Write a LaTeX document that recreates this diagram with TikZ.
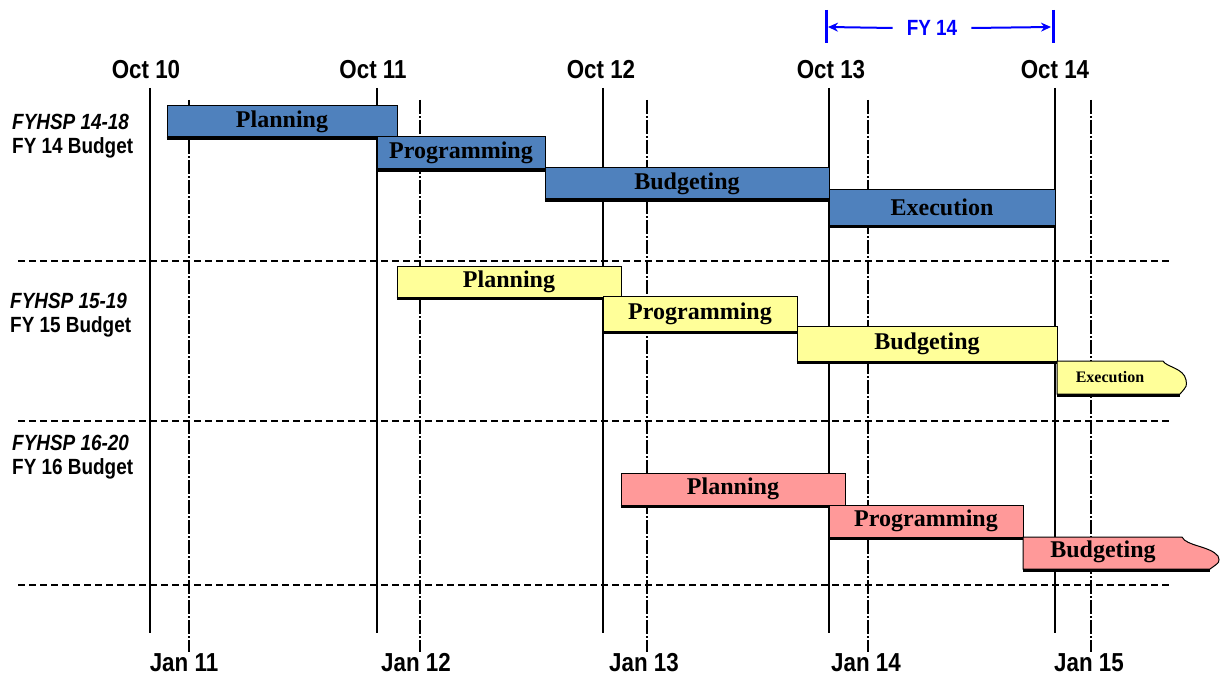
\documentclass[tikz,border=0pt]{standalone}
\usepackage{fontspec}
\setmainfont{Liberation Serif}
\newfontfamily\labfont[FakeStretch=0.86]{Liberation Sans}
\usetikzlibrary{arrows.meta}

\definecolor{barblue}{HTML}{4F81BD}
\definecolor{baryellow}{HTML}{FFFF99}
\definecolor{barred}{HTML}{FF9999}
\definecolor{fyblue}{HTML}{0000FF}

\tikzset{
  octline/.style={line width=2pt},
  janline/.style={line width=1.6pt, dash pattern=on 14pt off 2pt on 2pt off 2pt},
  sepline/.style={line width=1.6pt, dash pattern=on 7pt off 4pt},
  datelabel/.style={font=\labfont\fontsize{26}{26}\selectfont\bfseries, inner sep=0pt},
  rowlabel/.style={font=\labfont\fontsize{22}{24}\selectfont\bfseries, align=left, anchor=west, inner sep=0pt},
  ganttbox/.style={draw=black, line width=1pt, inner sep=0pt, rectangle,
    font=\fontsize{24}{24}\selectfont\bfseries},
  shadowline/.style={line width=3pt},
}

% \ganttbar{name}{x1}{y1}{x2}{y2}{fill}{text}
\newcommand{\ganttbar}[7]{%
  \node[ganttbox, fill=#6, minimum width={(#4-#2)*1pt}, minimum height={(#5-#3)*1pt}]
    (#1) at ({(#2+#4)/2},{(#3+#5)/2}) {#7};
  \draw[shadowline] ([yshift=-1pt]#1.south west) -- ([yshift=-1pt]#1.south east);
}

\begin{document}
\begin{tikzpicture}[x=1pt, y=-1pt]
\useasboundingbox (0,0) rectangle (1220,679);

% separators between the three budget cycles
\foreach \yy/\nm in {261/a, 421/b, 585/c} {
  \coordinate (sepL\nm) at (18,\yy);
  \coordinate (sepR\nm) at (1172,\yy);
  \draw[sepline] (sepL\nm) -- (sepR\nm);
}

% October gridlines with labels
\foreach \xx/\lx/\txt/\nm in {150/146/Oct 10/o10, 377/373/Oct 11/o11, 603/601/Oct 12/o12, 829/831/Oct 13/o13, 1055/1055/Oct 14/o14} {
  \node[datelabel] (\nm) at (\lx,70) {\txt};
  \coordinate (\nm top) at (\xx,88);
  \coordinate (\nm bot) at (\xx,633);
  \draw[octline] (\nm top) -- (\nm bot);
}

% January gridlines with labels
\foreach \xx/\lx/\txt/\nm in {189/184/Jan 11/j11, 420/416/Jan 12/j12, 647/644/Jan 13/j13, 868/866/Jan 14/j14, 1091/1089/Jan 15/j15} {
  \node[datelabel] (\nm) at (\lx,663) {\txt};
  \coordinate (\nm top) at (\xx,100);
  \coordinate (\nm bot) at (\xx,652);
  \draw[janline] (\nm top) -- (\nm bot);
}

% row labels
\node[rowlabel] (r14) at (12,136) {\itshape FYHSP 14-18\\FY 14 Budget};
\node[rowlabel] (r15) at (10,315) {\itshape FYHSP 15-19\\FY 15 Budget};
\node[rowlabel] (r16) at (12,457) {\itshape FYHSP 16-20\\FY 16 Budget};

% FY 14 span marker
\coordinate (fyLt) at (826,10);
\coordinate (fyLb) at (826,43);
\coordinate (fyRt) at (1053,10);
\coordinate (fyRb) at (1053,43);
\coordinate (fyLa) at (828,27);
\coordinate (fyRa) at (1051,27);
\draw[fyblue, line width=3pt] (fyLt) -- (fyLb);
\draw[fyblue, line width=3pt] (fyRt) -- (fyRb);
\node[font=\labfont\fontsize{22}{22}\selectfont\bfseries, text=fyblue, inner sep=0pt] (fy) at (932,28) {FY 14};
\draw[fyblue, line width=2pt, -{Stealth[length=10pt, width=9pt]}] ([xshift=-14pt]fy.west) -- (fyLa);
\draw[fyblue, line width=2pt, -{Stealth[length=10pt, width=9pt]}] ([xshift=14pt]fy.east) -- (fyRa);

% FY 14 budget cycle
\ganttbar{bPlan}{167}{106}{397}{137}{barblue}{Planning}
\ganttbar{bProg}{377}{137}{545}{169}{barblue}{Programming}
\ganttbar{bBudg}{545}{168}{829}{199}{barblue}{Budgeting}
\ganttbar{bExec}{829}{190}{1055}{225}{barblue}{Execution}

% FY 15 budget cycle
\ganttbar{yPlan}{397}{266}{621}{297}{baryellow}{Planning}
\ganttbar{yProg}{603}{296}{797}{331}{baryellow}{Programming}
\ganttbar{yBudg}{797}{326}{1057}{361}{baryellow}{Budgeting}
\filldraw[fill=baryellow, draw=black, line width=1pt]
  (1057,361) -- (1163,361) .. controls (1166,367) and (1184,368) .. (1186,380)
  .. controls (1187,386) .. (1180,394) -- (1057,394) -- cycle;
\draw[shadowline] (1057,395) -- (1180,395);
\node[font=\fontsize{16}{16}\selectfont\bfseries, inner sep=0pt] (yExec) at (1110,377) {Execution};

% FY 16 budget cycle
\ganttbar{rPlan}{621}{473}{845}{505}{barred}{Planning}
\ganttbar{rProg}{829}{505}{1023}{537}{barred}{Programming}
\filldraw[fill=barred, draw=black, line width=1pt]
  (1023,537) -- (1182,537) .. controls (1186,546) and (1210,546) .. (1218,556)
  .. controls (1220,562) .. (1210,569) -- (1023,569) -- cycle;
\draw[shadowline] (1023,570) -- (1210,570);
\node[font=\fontsize{24}{24}\selectfont\bfseries, inner sep=0pt] (rBudg) at (1103,552) {Budgeting};

\end{tikzpicture}
\end{document}
